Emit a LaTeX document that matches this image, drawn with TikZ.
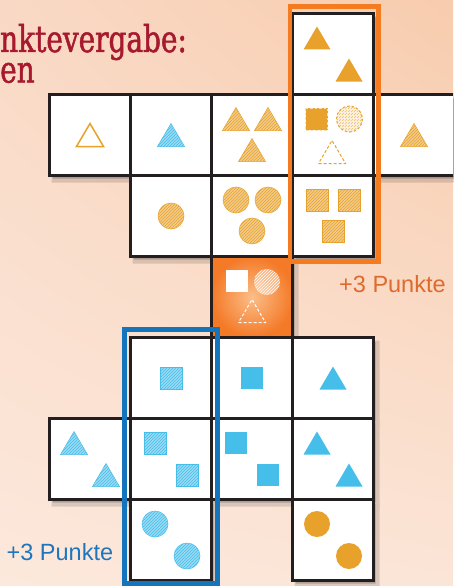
\documentclass[tikz,border=0pt]{standalone}
\usepackage{fontspec}
\setmainfont{Liberation Sans}
\newfontfamily\slabfont[FakeStretch=0.755, FakeBold=1.3]{DejaVu Serif}
\usetikzlibrary{patterns,calc,shadings}
\definecolor{og}{HTML}{E8A22C}
\definecolor{bl}{HTML}{46BEEA}
\definecolor{frameO}{HTML}{F47B20}
\definecolor{frameB}{HTML}{1575BC}
\definecolor{txtO}{HTML}{DE6A2E}
\definecolor{txtB}{HTML}{1E76BD}
\definecolor{titlered}{HTML}{A6192E}
\definecolor{edgec}{HTML}{231F20}
\definecolor{bgUL}{HTML}{F9D9C5}
\definecolor{bgUR}{HTML}{F8CCAE}
\definecolor{bgLL}{HTML}{FCE8DC}
\definecolor{bgLR}{HTML}{FBE5D7}
\definecolor{ctrIn}{HTML}{FBBE88}
\definecolor{ctrOut}{HTML}{F47A28}
\tikzset{
  cellbox/.style={fill=white, draw=edgec, line width=3pt},
  solidO/.style={fill=og},
  solidB/.style={fill=bl},
  hatchO/.style={preaction={fill=og!55!white}, pattern=north east lines, pattern color=og, draw=og, line width=0.5pt},
  hatchB/.style={preaction={fill=bl!55!white}, pattern=north east lines, pattern color=bl, draw=bl, line width=0.5pt},
  outlineO/.style={fill=white, draw=og, line width=1.5pt},
  dashSq/.style={fill=og, draw=og!35!white, line width=1pt, dash pattern=on 2.5pt off 2pt},
  dashCirc/.style={preaction={fill=og!15!white}, pattern=north east lines, pattern color=og!70!white, draw=og, line width=1pt, dash pattern=on 2.5pt off 2pt},
  dashTri/.style={fill=white, draw=og, line width=1pt, dash pattern=on 3pt off 2pt},
  whiteSq/.style={fill=white},
  whiteCirc/.style={preaction={fill=white, fill opacity=0.35}, pattern=north east lines, pattern color=white},
  whiteTri/.style={draw=white, line width=1pt, dash pattern=on 3pt off 2pt},
  frameOs/.style={draw=frameO, line width=4.8pt},
  frameBs/.style={draw=frameB, line width=4.8pt},
  titletext/.style={anchor=base west, inner sep=0, text=titlered, font=\slabfont\fontsize{37}{37}\selectfont},
  ptstext/.style={anchor=base west, inner sep=0, font=\fontsize{23.5}{23.5}\selectfont},
}
\newcommand\Tri[3]{\begin{scope}[shift={(#1)}]\path[#3] ($(#2)+(-13.5,11.5)$) -- ($(#2)+(13.5,11.5)$) -- ($(#2)+(0,-11.5)$) -- cycle;\end{scope}}
\newcommand\Sq[3]{\begin{scope}[shift={(#1)}]\path[#3] ($(#2)+(-11,-11)$) rectangle ($(#2)+(11,11)$);\end{scope}}
\newcommand\Circ[3]{\begin{scope}[shift={(#1)}]\path[#3] (#2) circle[radius=13];\end{scope}}
\begin{document}
\begin{tikzpicture}[x=1pt, y=-1pt]
\useasboundingbox (0,0) rectangle (453,586);
\clip (0,0) rectangle (453,586);
% background
\shade[upper left=bgUL, upper right=bgUR, lower left=bgLL, lower right=bgLR] (0,0) rectangle (453,586);
% cell centres
\foreach \c/\r in {3/0,0/1,1/1,2/1,3/1,4/1,1/2,2/2,3/2,2/3,1/4,2/4,3/4,0/5,1/5,2/5,3/5,1/6,3/6}
  \coordinate (c\c\r) at ({90+81*\c},{54+81*\r});
% shadows
\begin{scope}[transparency group, opacity=0.13]
\foreach \c/\r in {3/0,0/1,1/1,2/1,3/1,4/1,1/2,2/2,3/2,2/3,1/4,2/4,3/4,0/5,1/5,2/5,3/5,1/6,3/6}
  \fill[black] ({49.5+81*\c+2},{13.5+81*\r+3}) rectangle ++(85,85);
\end{scope}
\begin{scope}[transparency group, opacity=0.2]
\foreach \c/\r in {3/0,0/1,1/1,2/1,3/1,4/1,1/2,2/2,3/2,2/3,1/4,2/4,3/4,0/5,1/5,2/5,3/5,1/6,3/6}
  \fill[black] ({49.5+81*\c+3},{13.5+81*\r+4}) rectangle ++(80,80);
\end{scope}
% cells
\foreach \c/\r in {3/0,0/1,1/1,2/1,3/1,4/1,1/2,2/2,3/2,1/4,2/4,3/4,0/5,1/5,2/5,3/5,1/6,3/6}
  \path[cellbox] ({49.5+81*\c},{13.5+81*\r}) rectangle ++(81,81);
\shade[inner color=ctrIn, outer color=ctrOut] (211.5,256.5) rectangle (292.5,337.5);
\draw[draw=edgec, line width=3pt] (211.5,256.5) rectangle (292.5,337.5);
% row 0
\Tri{c30}{-16,-16}{solidO}
\Tri{c30}{16,16}{solidO}
% row 1
\Tri{c01}{0,0}{outlineO}
\Tri{c11}{0,0}{hatchB}
\Tri{c21}{-16,-16}{hatchO}
\Tri{c21}{16,-16}{hatchO}
\Tri{c21}{0,15}{hatchO}
\Sq{c31}{-16.5,-16}{dashSq}
\Circ{c31}{16.5,-16}{dashCirc}
\Tri{c31}{-1,17}{dashTri}
\Tri{c41}{0,0}{hatchO}
% row 2
\Circ{c12}{0,0}{hatchO}
\Circ{c22}{-16,-16}{hatchO}
\Circ{c22}{16,-16}{hatchO}
\Circ{c22}{0,15}{hatchO}
\Sq{c32}{-16,-16}{hatchO}
\Sq{c32}{16,-16}{hatchO}
\Sq{c32}{0,15}{hatchO}
% row 3 (centre)
\Sq{c23}{-15,-16}{whiteSq}
\Circ{c23}{15,-15}{whiteCirc}
\Tri{c23}{0,14}{whiteTri}
% row 4
\Sq{c14}{0,0}{hatchB}
\Sq{c24}{0,0}{solidB}
\Tri{c34}{0,0}{solidB}
% row 5
\Tri{c05}{-16,-16}{hatchB}
\Tri{c05}{16,16}{hatchB}
\Sq{c15}{-16,-16}{hatchB}
\Sq{c15}{16,16}{hatchB}
\Sq{c25}{-16,-16}{solidB}
\Sq{c25}{16,16}{solidB}
\Tri{c35}{-16,-16}{solidB}
\Tri{c35}{16,16}{solidB}
% row 6
\Circ{c16}{-16,-16}{hatchB}
\Circ{c16}{16,16}{hatchB}
\Circ{c36}{-16,-16}{solidO}
\Circ{c36}{16,16}{solidO}
% frames
\draw[frameOs] (290,6.5) rectangle (378.5,261.5);
\draw[frameBs] (124.5,329.5) rectangle (217.5,583.5);
% texts
\node[titletext, text depth=0pt] (title1) at (0,52) {nktevergabe:};
\node[titletext, text height=19pt] (title2) at (0,82.5) {en};
\node[ptstext, text=txtO] (ptsO) at (339,292.5) {+3 Punkte};
\node[ptstext, text=txtB] (ptsB) at (6.5,560) {+3 Punkte};
\end{tikzpicture}
\end{document}
